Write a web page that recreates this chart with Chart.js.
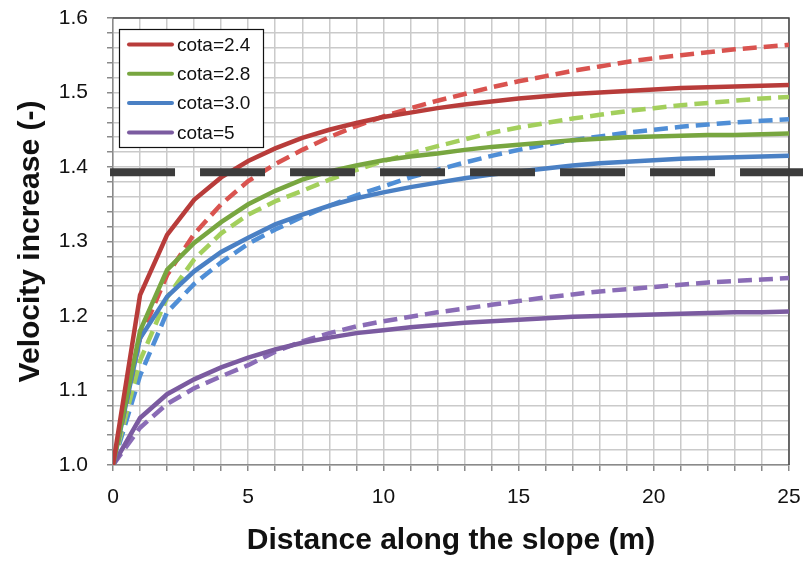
<!DOCTYPE html>
<html>
<head>
<meta charset="utf-8">
<script src="https://cdn.jsdelivr.net/npm/chart.js@4.4.1/dist/chart.umd.min.js"></script>
<style>
  html, body { margin: 0; padding: 0; background: #fff; }
  #wrap { width: 803px; height: 562px; }
</style>
</head>
<body>
<div id="wrap"><canvas id="velocity-chart" width="803" height="562"></canvas></div>
<script>
// distance along the slope (m)
var distance = [0, 1, 2, 3, 4, 5, 6, 7, 8, 9, 10, 11, 12, 13, 14, 15, 16, 17, 18, 19, 20, 21, 22, 23, 24, 25];

// solid curves
var cota24 = [1.0, 1.228, 1.309, 1.356, 1.386, 1.408, 1.425, 1.439, 1.45, 1.459, 1.467, 1.473, 1.479, 1.484, 1.488, 1.492, 1.495, 1.498, 1.5, 1.502, 1.504, 1.506, 1.507, 1.508, 1.509, 1.51];
var cota28 = [1.0, 1.18, 1.262, 1.298, 1.326, 1.35, 1.368, 1.383, 1.394, 1.402, 1.409, 1.414, 1.418, 1.423, 1.427, 1.43, 1.433, 1.436, 1.438, 1.44, 1.441, 1.442, 1.443, 1.443, 1.444, 1.445];
var cota30 = [1.0, 1.17, 1.226, 1.26, 1.286, 1.305, 1.323, 1.336, 1.348, 1.358, 1.366, 1.373, 1.379, 1.385, 1.39, 1.394, 1.398, 1.402, 1.405, 1.407, 1.409, 1.411, 1.412, 1.413, 1.414, 1.415];
var cota5 = [1.0, 1.063, 1.095, 1.115, 1.131, 1.144, 1.155, 1.164, 1.171, 1.177, 1.181, 1.185, 1.188, 1.191, 1.193, 1.195, 1.197, 1.199, 1.2, 1.201, 1.202, 1.203, 1.204, 1.205, 1.205, 1.206];

// dashed curves
var cota24Dash = [1.0, 1.17, 1.255, 1.31, 1.35, 1.381, 1.404, 1.423, 1.44, 1.455, 1.468, 1.479, 1.489, 1.498, 1.507, 1.515, 1.522, 1.529, 1.535, 1.541, 1.546, 1.55, 1.554, 1.558, 1.561, 1.564];
var cota28Dash = [1.0, 1.14, 1.225, 1.276, 1.311, 1.336, 1.354, 1.368, 1.383, 1.396, 1.408, 1.418, 1.428, 1.437, 1.446, 1.453, 1.459, 1.465, 1.47, 1.475, 1.479, 1.483, 1.486, 1.489, 1.492, 1.494];
var cota30Dash = [1.0, 1.12, 1.205, 1.243, 1.272, 1.297, 1.316, 1.333, 1.348, 1.362, 1.374, 1.386, 1.396, 1.406, 1.415, 1.423, 1.43, 1.436, 1.441, 1.446, 1.45, 1.454, 1.457, 1.46, 1.462, 1.464];
var cota5Dash = [1.0, 1.05, 1.082, 1.103, 1.119, 1.134, 1.152, 1.166, 1.177, 1.186, 1.193, 1.199, 1.205, 1.21, 1.215, 1.22, 1.225, 1.229, 1.233, 1.236, 1.239, 1.242, 1.245, 1.247, 1.249, 1.251];

// reference level (thick black dashes)
var refX = [-0.11, 25.6];
var refLevel = [1.393, 1.393];

var legendLabels = ['cota=2.4', 'cota=2.8', 'cota=3.0', 'cota=5'];
var xTickLabels = [0, 5, 10, 15, 20, 25];
var yTickLabels = [1.0, 1.1, 1.2, 1.3, 1.4, 1.5, 1.6];

function pts(xs, ys) {
    return xs.map(function (x, i) { return { x: x, y: ys[i] }; });
}

function curve(label, values, color, dashed) {
    return {
        label: label,
        data: pts(distance, values),
        borderColor: color,
        backgroundColor: color,
        borderWidth: 4.5,
        borderDash: dashed ? [14, 7] : [],
        pointRadius: 0,
        tension: 0,
        fill: false,
        order: 2
    };
}

// legend box inside the plot
var boxLegend = {
    id: 'boxLegend',
    afterDraw: function (chart) {
        var ctx = chart.ctx;
        var sets = chart.data.datasets.filter(function (d) { return d.showInBox; });
        ctx.save();
        ctx.fillStyle = '#fff';
        ctx.fillRect(119, 29, 144, 118);
        ctx.strokeStyle = '#111';
        ctx.lineWidth = 1.2;
        ctx.strokeRect(119.5, 29.5, 144, 118);
        ctx.font = '19px "Liberation Sans", Arial, sans-serif';
        ctx.textBaseline = 'middle';
        sets.forEach(function (d, i) {
            var y = 44.5 + i * 29.3;
            ctx.strokeStyle = d.borderColor;
            ctx.lineWidth = 4;
            ctx.lineCap = 'round';
            ctx.beginPath();
            ctx.moveTo(129, y);
            ctx.lineTo(172, y);
            ctx.stroke();
            ctx.fillStyle = '#111';
            ctx.fillText(legendLabels[i], 177, y + 1);
        });
        ctx.restore();
    }
};

// dark frame on top and right of the plot
var plotFrame = {
    id: 'plotFrame',
    beforeDatasetsDraw: function (chart) {
        var a = chart.chartArea, ctx = chart.ctx;
        ctx.save();
        ctx.strokeStyle = '#444';
        ctx.lineWidth = 1.5;
        ctx.beginPath();
        ctx.moveTo(a.left, a.top);
        ctx.lineTo(a.right, a.top);
        ctx.lineTo(a.right, a.bottom);
        ctx.stroke();
        ctx.restore();
    }
};

var datasets = [
    curve('cota=2.4', cota24, '#b83c3a', false),
    curve('cota=2.8', cota28, '#78a640', false),
    curve('cota=3.0', cota30, '#4a80c4', false),
    curve('cota=5', cota5, '#7b5ba0', false),
    curve('cota=2.4 dashed', cota24Dash, '#d9534f', true),
    curve('cota=2.8 dashed', cota28Dash, '#a3cf5c', true),
    curve('cota=3.0 dashed', cota30Dash, '#4f8ed6', true),
    curve('cota=5 dashed', cota5Dash, '#8a6cb6', true)
];
datasets.slice(0, 4).forEach(function (d) { d.showInBox = true; });
datasets.push({
    label: 'level',
    data: pts(refX, refLevel),
    borderColor: '#3c3c3c',
    borderWidth: 8,
    borderDash: [65, 25],
    borderCapStyle: 'butt',
    pointRadius: 0,
    clip: false,
    order: 1
});

new Chart(document.getElementById('velocity-chart'), {
    type: 'line',
    data: { datasets: datasets },
    plugins: [plotFrame, boxLegend],
    options: {
        responsive: false,
        animation: false,
        events: [],
        layout: { padding: { top: 18, right: 14, left: 0, bottom: 0 } },
        plugins: {
            legend: { display: false },
            tooltip: { enabled: false }
        },
        scales: {
            x: {
                type: 'linear',
                min: 0,
                max: 25,
                afterFit: function (s) { s.height = 97; s.paddingLeft = 0; s.paddingRight = 0; },
                grid: { color: '#cacaca', lineWidth: 1.5, tickColor: '#8a8a8a', tickLength: 6 },
                border: { color: '#8a8a8a', width: 1.5 },
                ticks: {
                    stepSize: 1,
                    autoSkip: false,
                    maxRotation: 0,
                    padding: 14,
                    color: '#111',
                    font: { family: '"Liberation Sans", Arial, sans-serif', size: 21 },
                    callback: function (v) { return xTickLabels.indexOf(v) >= 0 ? String(v) : ''; }
                },
                title: {
                    display: true,
                    text: 'Distance along the slope (m)',
                    color: '#111',
                    padding: { top: 0, bottom: 3 },
                    font: { family: '"Liberation Sans", Arial, sans-serif', size: 30, weight: 'bold' }
                }
            },
            y: {
                min: 1.0,
                max: 1.6,
                afterFit: function (s) { s.width = 113; s.paddingTop = 0; s.paddingBottom = 0; },
                grid: { color: '#cacaca', lineWidth: 1.5, tickColor: '#8a8a8a', tickLength: 6 },
                border: { color: '#8a8a8a', width: 1.5 },
                ticks: {
                    stepSize: 0.02,
                    autoSkip: false,
                    padding: 19,
                    color: '#111',
                    font: { family: '"Liberation Sans", Arial, sans-serif', size: 21 },
                    callback: function (v) {
                        var r = Math.round(v * 10) / 10;
                        if (Math.abs(v - r) > 1e-6) return '';
                        return yTickLabels.indexOf(r) >= 0 ? r.toFixed(1) : '';
                    }
                },
                title: {
                    display: true,
                    text: 'Velocity increase (-)',
                    color: '#111',
                    padding: { top: 13, bottom: 0 },
                    font: { family: '"Liberation Sans", Arial, sans-serif', size: 30, weight: 'bold' }
                }
            }
        }
    }
});
</script>
</body>
</html>
